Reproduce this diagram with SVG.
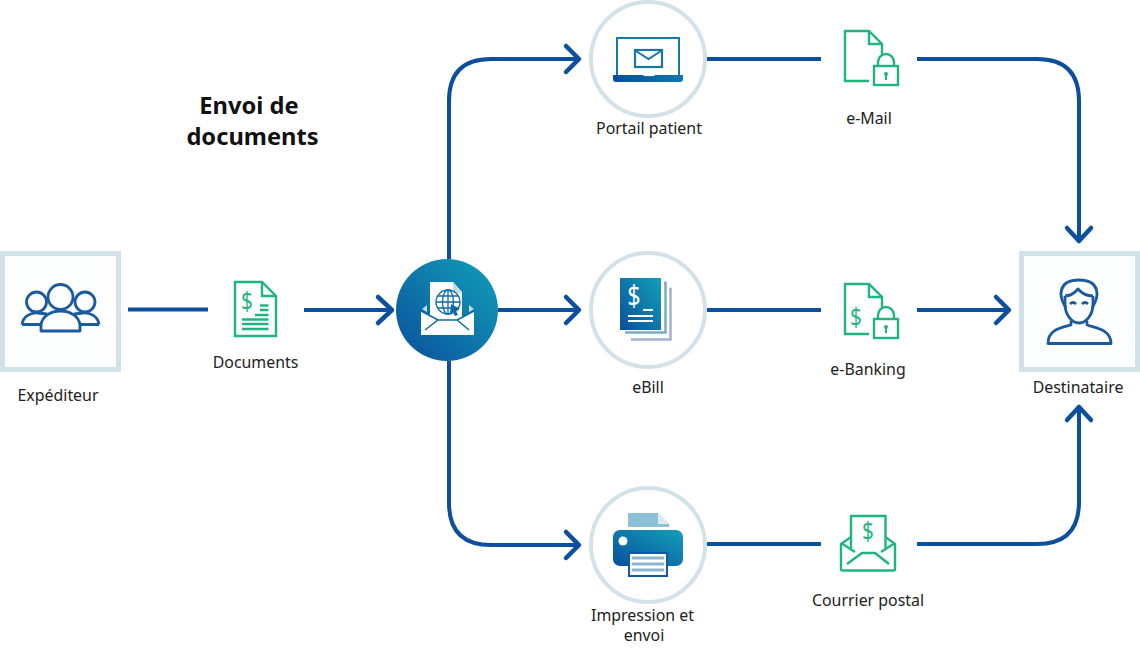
<svg xmlns="http://www.w3.org/2000/svg" width="1140" height="648" viewBox="0 0 1140 648">
<style>
text{font-family:"Noto Sans","Open Sans","Liberation Sans",sans-serif;font-size:15.900px;fill:#222;text-anchor:middle}
.title{font-size:23.700px;font-weight:700;fill:#111}
.conn{fill:none;stroke:#0b4f9e;stroke-width:4;stroke-linejoin:round}
.head{fill:none;stroke:#0b4f9e;stroke-width:4.500;stroke-linecap:round;stroke-linejoin:round}
.box{fill:#fdfefe;stroke:#d3e2e9;stroke-width:5}
.ring{fill:#fff;stroke:#d3e2e9;stroke-width:4}
.g{fill:none;stroke:#1fb57f;stroke-width:2.400}
.gf{fill:#1fb57f}
.b{fill:none;stroke:#1a5a9e;stroke-width:2.800;stroke-linejoin:round}
.dol{font-size:26px;fill:#1fb57f}
</style>
<defs>
<linearGradient id="grad" x1="0" y1="1" x2="1" y2="0"><stop offset="0" stop-color="#0a4f9c"/><stop offset="1" stop-color="#12a0b8"/></linearGradient>
<linearGradient id="bar" x1="0" y1="0" x2="1" y2="0"><stop offset="0" stop-color="#0a4f9c"/><stop offset="1" stop-color="#0f78a8"/></linearGradient>
</defs>
<g id="connectors">
<path class="conn" d="M128 309.500H208"/>
<path class="conn" d="M304 310H391"/>
<path class="head" d="M378 297L392 310L378 323"/>
<path class="conn" d="M449 259V101Q449 59 491 59H578"/>
<path class="head" d="M566 46L579 59L566 72"/>
<path class="conn" d="M498 310H578"/>
<path class="head" d="M566 297L579 310L566 323"/>
<path class="conn" d="M449 361V503Q449 545 491 545H578"/>
<path class="head" d="M566 532L579 545L566 558"/>
<path class="conn" d="M707 59H821"/>
<path class="conn" d="M707 310H821"/>
<path class="conn" d="M707 544H821"/>
<path class="conn" d="M917 59H1037Q1079 59 1079 101V240"/>
<path class="head" d="M1067 228L1079 241L1091 228"/>
<path class="conn" d="M917 310H1008"/>
<path class="head" d="M996 297L1009 310L996 323"/>
<path class="conn" d="M917 544H1037Q1079 544 1079 502V408"/>
<path class="head" d="M1067 420L1079 407L1091 420"/>
</g>
<g id="title"><text class="title" x="249" y="114">Envoi de</text><text class="title" x="252.500" y="145">documents</text></g>
<g id="expediteur">
<rect class="box" x="2.500" y="253.500" width="116" height="116"/>
<circle class="b" cx="60.500" cy="297" r="12.500"/>
<circle class="b" cx="36.500" cy="302" r="10"/>
<circle class="b" cx="85" cy="302" r="10"/>
<path class="b" d="M22 324.500C23 316 31 312.500 38 313L47 314M99 324.500C98 316 90 312.500 83 313L74 314M22 324.500H40M99 324.500H80"/>
<path class="b" d="M41 331V325C42 316 51 311 60.500 311C70 311 79 316 80 325V331Z"/>
<text x="58" y="401">Expéditeur</text>
</g>
<g id="documents">
<path class="g" d="M235 282H262L276 296V336H235Z"/><path class="g" d="M262 282V296H276"/>
<text class="dol" transform="translate(247 310) scale(.8 1)" x="0" y="0">$</text>
<path class="g" d="M260 305.500H268.500M260 310H268.500M255 315H268.500M242 319.500H268.500M242 324H268.500M242 329H268.500"/>
<text x="255.500" y="368">Documents</text>
</g>
<g id="hub">
<circle cx="447" cy="310" r="51" fill="url(#grad)"/>
<path fill="#fff" d="M430 282H453L462 292V320H430Z"/>
<path fill="#c5dbe6" d="M453 282L462 293H453Z"/>
<path fill="#c5dbe6" d="M422 309L427 305V312ZM474 309L469 305V312Z"/>
<path fill="#fff" d="M421 311L441 320H457L474 311V335H421Z"/>
<path fill="none" stroke="#0f6ba6" stroke-width="1.500" d="M425 330L438 320H457L469 330M421 311L438 320M474 311L457 320"/>
<g fill="none" stroke="#0f6ba6" stroke-width="1.300"><circle cx="448" cy="302" r="12"/><ellipse cx="448" cy="302" rx="5.500" ry="12"/><path d="M448 290V314M436 302H460M438 296H458M438 308H458"/></g>
<path fill="#0f6ba6" d="M451 304L460 309L456 311L458 315L455 316L453 312L450 314Z"/>
</g>
<g id="portail">
<circle class="ring" cx="648" cy="59" r="57"/>
<rect x="617" y="38" width="62" height="39" fill="none" stroke="#1478a8" stroke-width="2"/>
<rect x="635" y="50" width="27" height="17" fill="none" stroke="#1478a8" stroke-width="2.200"/>
<path d="M636 51L648.500 59L661 51" fill="none" stroke="#1478a8" stroke-width="2"/>
<path fill="url(#bar)" d="M613 75H643L645 77H653L655 75H683V79Q683 82 680 82H616Q613 82 613 79Z"/>
<text x="649" y="134">Portail patient</text>
</g>
<g id="email">
<path class="g" d="M869 81H845V31H869L882 44V55"/><path class="g" d="M869 31V44H882"/>
<rect class="g" x="874" y="66" width="24" height="19"/><path class="g" d="M878 66V62A8 8 0 0 1 894 62V66"/>
<circle class="gf" cx="886" cy="74" r="2"/><rect class="gf" x="885" y="74" width="2" height="6"/>
<text x="869" y="124">e-Mail</text>
</g>
<g id="ebill">
<circle class="ring" cx="648" cy="310" r="57"/>
<path fill="none" stroke="#7faac6" stroke-width="2.500" d="M664 283H665.500V332.500H625"/>
<path fill="none" stroke="#a0b4d0" stroke-width="2.500" d="M669 289H670.500V339.500H631"/>
<rect x="620" y="278" width="41" height="52" fill="url(#grad)"/>
<text transform="translate(634 306) scale(.8 1)" x="0" y="0" style="font-size:29px;fill:#fff">$</text>
<path stroke="#fff" stroke-width="1.800" d="M643 310H653M628 316H653M628 321H653"/>
<text x="648" y="393">eBill</text>
</g>
<g id="ebanking">
<path class="g" d="M869 334H845V284H869L882 297V308"/><path class="g" d="M869 284V297H882"/>
<text class="dol" transform="translate(856 326) scale(.8 1)" x="0" y="0">$</text>
<rect class="g" x="874" y="319" width="24" height="19"/><path class="g" d="M878 319V315A8 8 0 0 1 894 315V319"/>
<circle class="gf" cx="886" cy="327" r="2"/><rect class="gf" x="885" y="327" width="2" height="6"/>
<text x="868" y="375">e-Banking</text>
</g>
<g id="impression">
<circle class="ring" cx="648" cy="545" r="57"/>
<path fill="#8cc0d6" d="M628 513H658L669 524V527H628Z"/><path fill="#dcebf1" d="M658 513L669 524H658Z"/>
<rect x="613" y="530" width="70" height="36" rx="7" fill="url(#grad)"/>
<circle cx="623" cy="541" r="4.500" fill="#fff"/>
<rect x="629" y="553" width="38" height="23" fill="#fff" stroke="#0f5aa0" stroke-width="2"/>
<path stroke="#8cb4cf" stroke-width="3" d="M632 558H664M632 564H664M632 570H664"/>
<text x="642.500" y="621">Impression et</text><text x="644" y="641">envoi</text>
</g>
<g id="courrier">
<path class="g" d="M851 548V516H885.500V548"/>
<path class="g" d="M851 537L841 544V569Q841 570.500 842.500 570.500H893.500Q895 570.500 895 569V544L885.500 537"/>
<path class="g" d="M841 543L855 552M895 543L881 552M847 564L862 553H875L889 564"/>
<text class="dol" transform="translate(868 540) scale(.8 1)" x="0" y="0">$</text>
<text x="868" y="606">Courrier postal</text>
</g>
<g id="destinataire">
<rect class="box" x="1021.500" y="253.500" width="116" height="116"/>
<path class="b" d="M1066 308C1058 296 1058 280 1079 280C1100 280 1100 296 1092 308"/>
<path class="b" d="M1065 296Q1072 296 1078 289Q1084 296 1093 296"/>
<path class="b" d="M1065 296V304C1065 315 1072 323 1079 323C1086 323 1093 315 1093 304V296"/>
<path class="b" d="M1070 304Q1073 301 1076 304M1082 304Q1085 301 1088 304"/>
<path class="b" d="M1071 321V325C1060 328 1048 330 1048 343.500H1111C1111 330 1097 328 1087 325V321"/>
<text x="1078" y="393">Destinataire</text>
</g>
</svg>
